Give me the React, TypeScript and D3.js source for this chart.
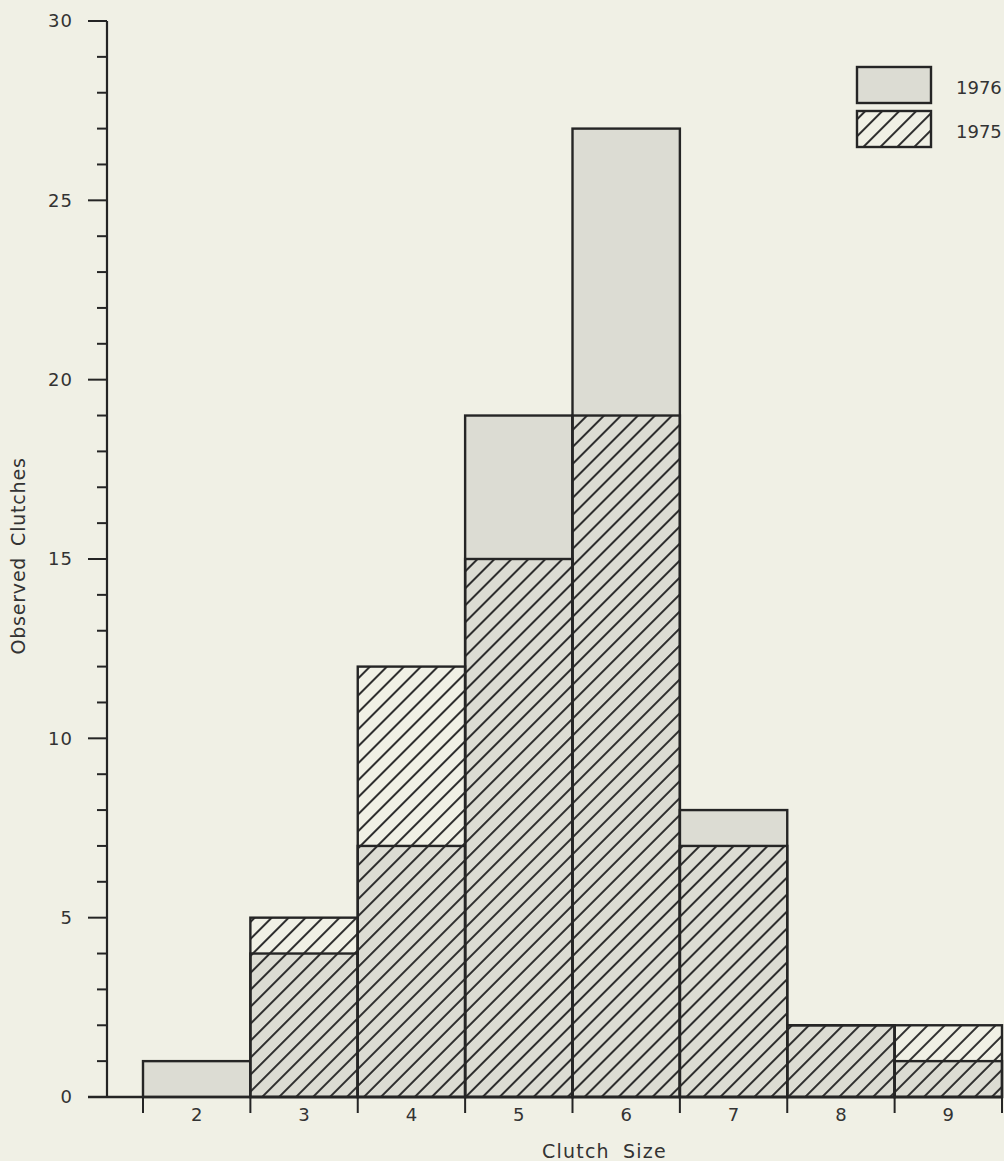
import { useRef, useEffect } from 'react'
import { select, scaleLinear, range } from 'd3'

const Settings = {
  width: 1004,
  height: 1161,
  axisX: 107,
  left: 143,
  right: 1002,
  top: 21,
  bottom: 1097,
  bg: '#f0f0e5',
  gray: '#dcdcd3',
  ink: '#252525',
  font: '"DejaVu Sans", sans-serif',
}

// clutch sizes (bins)
const clutchSizes = [2, 3, 4, 5, 6, 7, 8, 9]
// observed clutches per year
const counts1976 = [1, 4, 7, 19, 27, 8, 2, 1]
const counts1975 = [0, 5, 12, 15, 19, 7, 2, 2]
const yTickLabels = [0, 5, 10, 15, 20, 25, 30]

function ClutchChart() {
  const svgRef = useRef<SVGSVGElement>(null)

  useEffect(() => {
    const svg = select(svgRef.current)
    svg.selectAll('*').remove()

    const xScale = scaleLinear()
      .domain([clutchSizes[0] - 0.5, clutchSizes[clutchSizes.length - 1] + 0.5])
      .range([Settings.left, Settings.right])

    const yScale = scaleLinear()
      .domain([0, 30])
      .range([Settings.bottom, Settings.top])

    svg.append('rect')
      .attr('width', Settings.width)
      .attr('height', Settings.height)
      .attr('fill', Settings.bg)

    const defs = svg.append('defs')
    const pat = defs.append('pattern')
      .attr('id', 'hatch')
      .attr('patternUnits', 'userSpaceOnUse')
      .attr('width', 12)
      .attr('height', 12)
      .attr('patternTransform', 'rotate(45)')
    pat.append('line')
      .attr('x1', 1).attr('y1', 0)
      .attr('x2', 1).attr('y2', 12)
      .attr('stroke', Settings.ink)
      .attr('stroke-width', 1.9)

    const data = clutchSizes.map((c, i) => ({ c, a: counts1976[i], b: counts1975[i] }))

    // 1976 bars (gray)
    svg.append('g').selectAll('rect')
      .data(data.filter(d => d.a > 0))
      .join('rect')
      .attr('x', d => xScale(d.c - 0.5))
      .attr('width', d => xScale(d.c + 0.5) - xScale(d.c - 0.5))
      .attr('y', d => yScale(d.a))
      .attr('height', d => yScale(0) - yScale(d.a))
      .attr('fill', Settings.gray)
      .attr('stroke', Settings.ink)
      .attr('stroke-width', 2.4)

    // 1975 bars (hatched)
    svg.append('g').selectAll('rect')
      .data(data.filter(d => d.b > 0))
      .join('rect')
      .attr('x', d => xScale(d.c - 0.5))
      .attr('width', d => xScale(d.c + 0.5) - xScale(d.c - 0.5))
      .attr('y', d => yScale(d.b))
      .attr('height', d => yScale(0) - yScale(d.b))
      .attr('fill', 'url(#hatch)')
      .attr('stroke', Settings.ink)
      .attr('stroke-width', 2.4)

    // y axis
    const yAxis = svg.append('g')
    yAxis.append('line')
      .attr('x1', Settings.axisX).attr('x2', Settings.axisX)
      .attr('y1', yScale(30)).attr('y2', yScale(0))
      .attr('stroke', Settings.ink).attr('stroke-width', 2.2)
    yAxis.selectAll('.minor')
      .data(range(0, 31).filter(v => v % 5 !== 0))
      .join('line')
      .attr('x1', Settings.axisX - 10).attr('x2', Settings.axisX)
      .attr('y1', d => yScale(d)).attr('y2', d => yScale(d))
      .attr('stroke', Settings.ink).attr('stroke-width', 2)
    yAxis.selectAll('.major')
      .data(yTickLabels)
      .join('line')
      .attr('x1', Settings.axisX - 19).attr('x2', Settings.axisX)
      .attr('y1', d => yScale(d)).attr('y2', d => yScale(d))
      .attr('stroke', Settings.ink).attr('stroke-width', 2)
    yAxis.selectAll('text')
      .data(yTickLabels)
      .join('text')
      .attr('x', 73)
      .attr('y', d => yScale(d))
      .attr('dy', '0.36em')
      .attr('text-anchor', 'end')
      .attr('font-family', Settings.font)
      .attr('font-size', 18)
      .attr('letter-spacing', 1)
      .attr('fill', '#333')
      .text(d => d)

    // x axis
    const xAxis = svg.append('g')
    xAxis.append('line')
      .attr('x1', Settings.axisX - 19).attr('x2', Settings.right)
      .attr('y1', yScale(0)).attr('y2', yScale(0))
      .attr('stroke', Settings.ink).attr('stroke-width', 2.4)
    xAxis.selectAll('.tick')
      .data([...clutchSizes.map(c => c - 0.5), clutchSizes[clutchSizes.length - 1] + 0.5])
      .join('line')
      .attr('x1', d => xScale(d)).attr('x2', d => xScale(d))
      .attr('y1', yScale(0)).attr('y2', yScale(0) + 16)
      .attr('stroke', Settings.ink).attr('stroke-width', 2)
    xAxis.selectAll('text')
      .data(clutchSizes)
      .join('text')
      .attr('x', d => xScale(d))
      .attr('y', 1121)
      .attr('text-anchor', 'middle')
      .attr('font-family', Settings.font)
      .attr('font-size', 18)
      .attr('fill', '#333')
      .text(d => d)

    // axis titles
    svg.append('text')
      .attr('x', (Settings.left + Settings.right) / 2 + 32)
      .attr('y', 1158)
      .attr('text-anchor', 'middle')
      .attr('font-family', Settings.font)
      .attr('font-size', 19)
      .attr('letter-spacing', 1.2)
      .attr('word-spacing', 6)
      .attr('fill', '#333')
      .text('Clutch Size')

    svg.append('text')
      .attr('transform', `translate(25,556) rotate(-90)`)
      .attr('text-anchor', 'middle')
      .attr('font-family', Settings.font)
      .attr('font-size', 19)
      .attr('letter-spacing', 0.8)
      .attr('word-spacing', 4)
      .attr('fill', '#333')
      .text('Observed Clutches')

    // legend
    const legend = svg.append('g').attr('transform', 'translate(857,67)')
    const items = [
      { label: '1976', fill: Settings.gray },
      { label: '1975', fill: 'url(#hatch)' },
    ]
    items.forEach((it, i) => {
      legend.append('rect')
        .attr('x', 0).attr('y', i * 44)
        .attr('width', 74).attr('height', 36)
        .attr('fill', it.fill)
        .attr('stroke', Settings.ink)
        .attr('stroke-width', 2.4)
      legend.append('text')
        .attr('x', 99).attr('y', i * 44 + 27)
        .attr('font-family', Settings.font)
        .attr('font-size', 18)
        .attr('fill', '#333')
        .text(it.label)
    })
  }, [])

  return (
    <svg ref={svgRef} width={Settings.width} height={Settings.height} style={{ display: 'block' }} />
  )
}

export default function App() {
  useEffect(() => {
    document.body.style.margin = '0'
    document.body.style.background = Settings.bg
  }, [])
  return <ClutchChart />
}
